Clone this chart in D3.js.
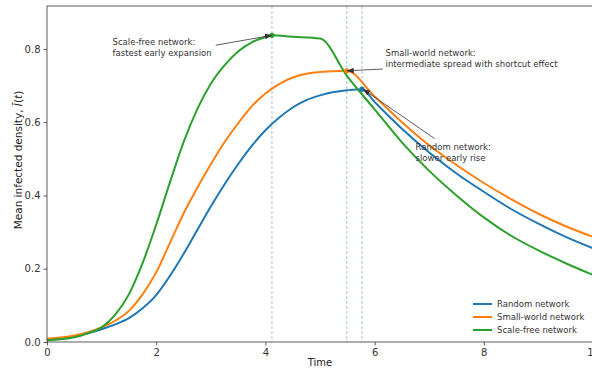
<!DOCTYPE html>
<html>
<head>
<meta charset="utf-8">
<script src="https://cdn.jsdelivr.net/npm/d3@7"></script>
<style>
  body { margin: 0; background: #fff; }
  svg { display: block; font-family: "DejaVu Sans", sans-serif; }
</style>
</head>
<body>
<svg id="chart" width="592" height="372"></svg>
<script>
// series
var randomT  = [0, 0.5, 0.75, 1, 1.25, 1.5, 1.75, 2, 2.25, 2.5, 2.75, 3, 3.25, 3.5, 3.75, 4, 4.25, 4.5, 4.75, 5, 5.25, 5.5, 5.77, 6, 6.5, 7, 7.5, 8, 8.5, 9, 9.5, 10]
var randomV  = [0.008, 0.015, 0.024, 0.035, 0.048, 0.065, 0.092, 0.128, 0.18, 0.24, 0.305, 0.37, 0.43, 0.485, 0.535, 0.578, 0.612, 0.64, 0.66, 0.673, 0.682, 0.687, 0.69, 0.655, 0.582, 0.517, 0.46, 0.41, 0.363, 0.323, 0.287, 0.256]

var smallT   = [0, 0.5, 0.75, 1, 1.25, 1.5, 1.75, 2, 2.25, 2.5, 2.75, 3, 3.25, 3.5, 3.75, 4, 4.25, 4.5, 4.75, 5, 5.25, 5.49, 6, 6.5, 7, 7.5, 8, 8.5, 9, 9.5, 10]
var smallV   = [0.009, 0.018, 0.027, 0.04, 0.058, 0.085, 0.13, 0.19, 0.27, 0.35, 0.42, 0.485, 0.545, 0.597, 0.643, 0.678, 0.704, 0.722, 0.732, 0.737, 0.739, 0.74, 0.67, 0.6, 0.537, 0.483, 0.434, 0.39, 0.35, 0.316, 0.287]

var scaleT   = [0, 0.5, 0.75, 1, 1.25, 1.5, 1.75, 2, 2.25, 2.5, 2.75, 3, 3.25, 3.5, 3.75, 4, 4.12, 4.5, 5, 5.5, 6, 6.5, 7, 7.5, 8, 8.5, 9, 9.5, 10]
var scaleV   = [0.005, 0.013, 0.024, 0.04, 0.075, 0.13, 0.215, 0.32, 0.435, 0.545, 0.635, 0.705, 0.755, 0.793, 0.818, 0.832, 0.837, 0.833, 0.828, 0.725, 0.635, 0.545, 0.467, 0.4, 0.34, 0.29, 0.25, 0.215, 0.183]

var seriesNames  = ['Random network', 'Small-world network', 'Scale-free network']
var seriesColors = ['#1f77b4', '#ff7f0e', '#2ca02c']

var peakT = [5.77, 5.49, 4.12]
var peakV = [0.69, 0.74, 0.837]

var xTicks = [0, 2, 4, 6, 8, 10]
var yTicks = [0, 0.2, 0.4, 0.6, 0.8]

var noteLines = [
    ['Random network:', 'slower early rise'],
    ['Small-world network:', 'intermediate spread with shortcut effect'],
    ['Scale-free network:', 'fastest early expansion']
]
// note text anchor and arrow tail, data units
var noteT = [6.75, 6.2, 1.2]
var noteV = [0.525, 0.78, 0.81]
var tailT = [7.1, 6.15, 3.09]
var tailV = [0.555, 0.745, 0.81]


var svg = d3.select('#chart')
var mLeft = 47, mTop = 6, mRight = 593, mBottom = 342

var x = d3.scaleLinear().domain([0, 10]).range([mLeft, mRight])
var y = d3.scaleLinear().domain([0, 0.917]).range([mBottom, mTop])

svg.append('rect').attr('width', 592).attr('height', 372).attr('fill', '#fff')

svg.append('defs').append('marker')
    .attr('id', 'head')
    .attr('viewBox', '0 0 10 10')
    .attr('refX', 10).attr('refY', 5)
    .attr('markerWidth', 7).attr('markerHeight', 7)
    .attr('markerUnits', 'userSpaceOnUse')
    .attr('orient', 'auto')
    .append('path').attr('d', 'M0,1 L10,5 L0,9 Z').attr('fill', '#333')

var plot = svg.append('g')

// peak guide lines
peakT.forEach(function(t) {
    plot.append('line')
        .attr('x1', x(t)).attr('x2', x(t))
        .attr('y1', mTop).attr('y2', mBottom)
        .attr('stroke', '#1f77b4').attr('stroke-opacity', 0.55)
        .attr('stroke-width', 0.8).attr('stroke-dasharray', '3,2')
})

var line = d3.line()
    .x(function(d) { return x(d[0]) })
    .y(function(d) { return y(d[1]) })
    .curve(d3.curveMonotoneX)

var allT = [randomT, smallT, scaleT]
var allV = [randomV, smallV, scaleV]

allT.forEach(function(ts, i) {
    var pts = ts.map(function(t, k) { return [t, allV[i][k]] })
    plot.append('path')
        .attr('d', line(pts))
        .attr('fill', 'none')
        .attr('stroke', seriesColors[i])
        .attr('stroke-width', 2)
})

peakT.forEach(function(t, i) {
    plot.append('circle')
        .attr('cx', x(t)).attr('cy', y(peakV[i])).attr('r', 2.6)
        .attr('fill', seriesColors[i])
})

// axes
var xAxis = svg.append('g')
    .attr('transform', 'translate(0,' + mBottom + ')')
    .call(d3.axisBottom(x).tickValues(xTicks).tickFormat(d3.format('d')).tickSize(3.5).tickPadding(3))
var yAxis = svg.append('g')
    .attr('transform', 'translate(' + mLeft + ',0)')
    .call(d3.axisLeft(y).tickValues(yTicks).tickFormat(d3.format('.1f')).tickSize(3.5).tickPadding(3))

;[xAxis, yAxis].forEach(function(a) {
    a.select('.domain').remove()
    a.selectAll('line').attr('stroke', '#333').attr('stroke-width', 0.8)
    a.selectAll('text').attr('fill', '#333').style('font-size', '10px').style('font-family', '"DejaVu Sans", sans-serif')
})

// frame
svg.append('rect')
    .attr('x', mLeft).attr('y', mTop)
    .attr('width', mRight - mLeft).attr('height', mBottom - mTop)
    .attr('fill', 'none').attr('stroke', '#333').attr('stroke-width', 0.8)

svg.append('text')
    .attr('x', (mLeft + mRight) / 2).attr('y', 366)
    .attr('text-anchor', 'middle').attr('fill', '#222')
    .style('font-size', '10px')
    .text('Time')

var yl = svg.append('text')
    .attr('transform', 'translate(22,160) rotate(-90)')
    .attr('text-anchor', 'middle').attr('fill', '#222')
    .style('font-size', '10.5px')
yl.append('tspan').text('Mean infected density, ')
yl.append('tspan').style('font-style', 'italic').text('\u012A')
yl.append('tspan').text('(')
yl.append('tspan').style('font-style', 'italic').text('t')
yl.append('tspan').text(')')

// annotations
noteLines.forEach(function(lines, i) {
    var tx = x(noteT[i]), ty = y(noteV[i])
    var t = svg.append('text')
        .attr('x', tx).attr('y', ty)
        .attr('fill', '#333').style('font-size', '8.5px')
    lines.forEach(function(s, k) {
        t.append('tspan').attr('x', tx).attr('dy', k ? 11 : 0).text(s)
    })
})

peakT.forEach(function(t, i) {
    svg.append('line')
        .attr('x1', x(tailT[i])).attr('y1', y(tailV[i]))
        .attr('x2', x(t) + (i === 0 ? 1 : 0)).attr('y2', y(peakV[i]))
        .attr('stroke', '#333').attr('stroke-width', 0.8)
        .attr('marker-end', 'url(#head)')
})

// legend
var legend = svg.append('g').attr('transform', 'translate(473,304)')
seriesNames.forEach(function(name, i) {
    var g = legend.append('g').attr('transform', 'translate(0,' + (i * 13) + ')')
    g.append('line').attr('x1', 0).attr('x2', 19)
        .attr('stroke', seriesColors[i]).attr('stroke-width', 2)
    g.append('text').attr('x', 24).attr('y', 3.2)
        .attr('fill', '#333').style('font-size', '8.5px').text(name)
})
</script>
</body>
</html>
